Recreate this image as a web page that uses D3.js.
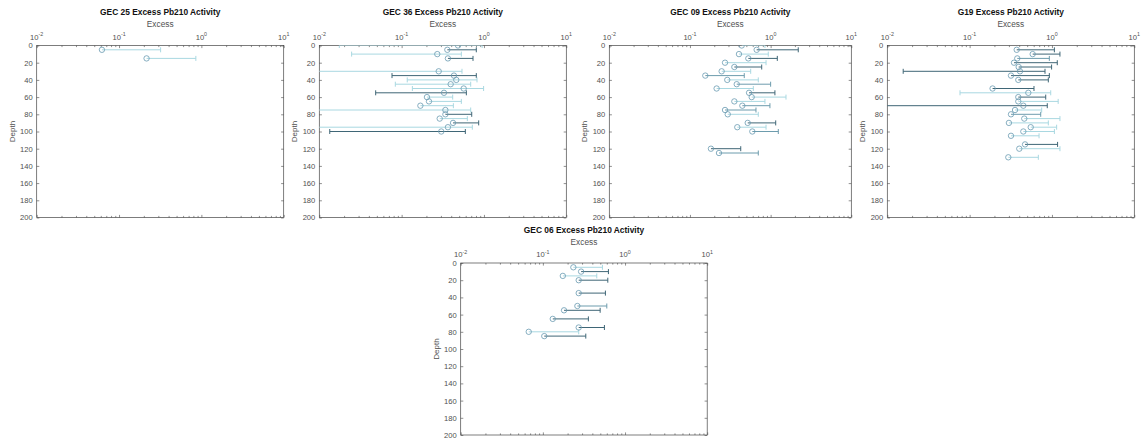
<!DOCTYPE html>
<html>
<head>
<meta charset="utf-8">
<script src="https://cdn.jsdelivr.net/npm/d3@7"></script>
<style>
  body { margin: 0; background: #fff; }
  svg { display: block; }
  text { font-family: "Liberation Sans", Arial, sans-serif; }
</style>
</head>
<body>
<div id="chart"></div>
<script>
// ---- data ----
// low: null = lower bound below zero (no left whisker), <0.01 = runs off the axis
const gec25Depth = [5, 15];
const gec25Value = [0.062, 0.216];
const gec25Low = [null, null];
const gec25High = [0.32, 0.857];
const gec25Tone = ["l", "l"];

const gec36Depth = [0, 5, 10, 15, 30, 35, 40, 45, 50, 55, 60, 65, 70, 75, 80, 85, 90, 95, 100];
const gec36Value = [0.484, 0.359, 0.271, 0.365, 0.282, 0.432, 0.461, 0.394, 0.567, 0.327, 0.203, 0.215, 0.169, 0.340, 0.340, 0.290, 0.421, 0.365, 0.303];
const gec36Low = [0.0175, null, 0.0247, null, 0.005, 0.0764, 0.117, 0.0838, 0.135, 0.0484, null, null, null, 0.005, null, null, null, 0.005, 0.0134];
const gec36High = [0.95, 0.807, 0.531, 0.736, 0.541, 0.807, 0.823, 0.690, 0.99, 0.611, 0.417, 0.531, 0.425, 0.69, 0.71, 0.628, 0.863, 0.722, 0.594];
const gec36Tone = ["l", "d", "l", "d", "l", "d", "l", "l", "l", "d", "l", "l", "l", "l", "d", "l", "d", "l", "d"];

const gec09Depth = [0, 5, 10, 15, 20, 25, 30, 35, 40, 45, 50, 55, 60, 65, 70, 75, 80, 90, 95, 100, 120, 125];
const gec09Value = [0.438, 0.671, 0.405, 0.529, 0.272, 0.355, 0.247, 0.155, 0.290, 0.380, 0.214, 0.540, 0.582, 0.355, 0.446, 0.272, 0.294, 0.520, 0.386, 0.593, 0.182, 0.229];
const gec09Low = gec09Value.map(() => null);
const gec09High = [0.85, 2.2, 0.935, 1.21, 0.877, 0.775, 0.566, 0.471, 0.703, 1.0, 0.61, 1.13, 1.55, 0.85, 0.98, 0.658, 0.703, 1.156, 0.877, 1.245, 0.426, 0.703];
const gec09Tone = ["l", "d", "l", "d", "l", "d", "l", "m", "l", "m", "l", "d", "l", "l", "m", "m", "l", "d", "l", "m", "d", "m"];

const g19Depth = [5, 10, 15, 20, 25, 30, 35, 40, 50, 55, 60, 65, 70, 75, 80, 85, 90, 95, 100, 105, 115, 120, 130];
const g19Value = [0.373, 0.583, 0.379, 0.346, 0.394, 0.409, 0.318, 0.39, 0.19, 0.516, 0.39, 0.39, 0.449, 0.356, 0.318, 0.461, 0.30, 0.552, 0.449, 0.318, 0.471, 0.401, 0.295];
const g19Low = [null, null, null, null, null, 0.0156, null, null, null, 0.0764, null, null, 0.005, null, null, null, null, null, null, null, null, null, null];
const g19High = [1.07, 1.25, 0.929, 1.16, 0.99, 0.823, 0.929, 0.903, 0.605, 0.966, 0.84, 1.19, 0.877, 0.75, 0.73, 1.25, 0.903, 1.14, 1.07, 0.697, 1.17, 1.25, 0.683];
const g19Tone = ["d", "d", "m", "d", "d", "d", "d", "d", "d", "l", "d", "l", "d", "l", "m", "l", "l", "l", "l", "l", "d", "l", "l"];

const gec06Depth = [5, 10, 15, 20, 35, 50, 55, 65, 75, 80, 85];
const gec06Value = [0.235, 0.292, 0.175, 0.273, 0.273, 0.263, 0.181, 0.132, 0.273, 0.0673, 0.104];
const gec06Low = gec06Value.map(() => null);
const gec06High = [0.531, 0.628, 0.453, 0.617, 0.577, 0.60, 0.498, 0.358, 0.561, 0.273, 0.333];
const gec06Tone = ["l", "d", "l", "d", "d", "m", "d", "d", "d", "l", "d"];

const xDecades = [0.01, 0.1, 1, 10];
const xExponents = ["-2", "-1", "0", "1"];
const depthTicks = [0, 20, 40, 60, 80, 100, 120, 140, 160, 180, 200];

// ---- layout ----
const width = 1142;
const height = 442;
const toneColor = { l: "#a9d8e1", m: "#6d9cad", d: "#3f6676" };
const markerColor = "#6a9bb1";
const axisColor = "#454545";
const textColor = "#505050";

const panels = [
    { name: "GEC 25", x: 36.7, y: 45.5, w: 247, depth: gec25Depth, value: gec25Value, low: gec25Low, high: gec25High, tone: gec25Tone },
    { name: "GEC 36", x: 319.3, y: 45.5, w: 247, depth: gec36Depth, value: gec36Value, low: gec36Low, high: gec36High, tone: gec36Tone },
    { name: "GEC 09", x: 609.3, y: 45.5, w: 242, depth: gec09Depth, value: gec09Value, low: gec09Low, high: gec09High, tone: gec09Tone },
    { name: "G19", x: 887.3, y: 45.5, w: 247, depth: g19Depth, value: g19Value, low: g19Low, high: g19High, tone: g19Tone },
    { name: "GEC 06", x: 460.7, y: 263, w: 246.5, depth: gec06Depth, value: gec06Value, low: gec06Low, high: gec06High, tone: gec06Tone }
];
const plotH = 172;

const svg = d3.select("#chart")
    .append("svg")
    .attr("width", width)
    .attr("height", height);

panels.forEach((p, k) => {
    const x = d3.scaleLog().domain([0.01, 10]).range([0, p.w]);
    const y = d3.scaleLinear().domain([0, 200]).range([0, plotH]);

    const g = svg.append("g").attr("transform", `translate(${p.x},${p.y})`);

    svg.append("clipPath").attr("id", "clip" + k)
        .append("rect").attr("x", p.x).attr("y", p.y).attr("width", p.w).attr("height", plotH);

    // titles
    g.append("text")
        .attr("x", p.w / 2).attr("y", -30.5)
        .attr("text-anchor", "middle")
        .style("font-size", "8.4px").style("font-weight", "bold").attr("fill", "#111")
        .text(`${p.name} Excess Pb210 Activity`);
    g.append("text")
        .attr("x", p.w / 2).attr("y", -18.5)
        .attr("text-anchor", "middle")
        .style("font-size", "8.3px").attr("fill", textColor)
        .text("Excess");
    g.append("text")
        .attr("transform", `translate(-22,${plotH / 2}) rotate(-90)`)
        .attr("text-anchor", "middle")
        .style("font-size", "8px").attr("fill", textColor)
        .text("Depth");

    // minor + major x ticks, top and bottom, pointing inward
    const minor = x.ticks().filter(v => !xDecades.includes(v));
    [["top", 0, -1.6, minor], ["top", 0, -2.6, xDecades], ["bottom", plotH, -1.6, minor], ["bottom", plotH, -2.6, xDecades]]
        .forEach(([side, ty, size, vals]) => {
            const ax = (side === "top" ? d3.axisTop(x) : d3.axisBottom(x))
                .tickValues(vals).tickSize(size).tickSizeOuter(0).tickFormat("");
            const a = g.append("g").attr("transform", `translate(0,${ty})`).call(ax);
            a.select(".domain").remove();
            a.selectAll("line").attr("stroke", axisColor).attr("stroke-width", 0.6);
        });

    // decade labels with superscripts
    xDecades.forEach((v, i) => {
        const t = g.append("text")
            .attr("x", x(v)).attr("y", -6)
            .attr("text-anchor", "middle")
            .style("font-size", "7.6px").attr("fill", textColor);
        t.append("tspan").text("10");
        t.append("tspan").attr("dy", -3.5).style("font-size", "5.3px").text(xExponents[i]);
    });

    // y axes
    const yl = g.append("g").call(d3.axisLeft(y).tickValues(depthTicks).tickSize(-2.6).tickSizeOuter(0).tickPadding(4));
    yl.select(".domain").remove();
    yl.selectAll("line").attr("stroke", axisColor).attr("stroke-width", 0.6);
    yl.selectAll("text").style("font-size", "7.6px").attr("fill", textColor)
        .style("font-family", "'Liberation Sans', Arial, sans-serif");
    const yr = g.append("g").attr("transform", `translate(${p.w},0)`)
        .call(d3.axisRight(y).tickValues(depthTicks).tickSize(-2.6).tickSizeOuter(0).tickFormat(""));
    yr.select(".domain").remove();
    yr.selectAll("line").attr("stroke", axisColor).attr("stroke-width", 0.6);

    // frame
    g.append("rect")
        .attr("width", p.w).attr("height", plotH)
        .attr("fill", "none").attr("stroke", axisColor).attr("stroke-width", 0.7);

    // error bars
    const rows = p.depth.map((d, i) => ({ d, v: p.value[i], lo: p.low[i], hi: p.high[i], c: toneColor[p.tone[i]] }));
    const bars = svg.append("g").attr("clip-path", `url(#clip${k})`)
        .append("g").attr("transform", `translate(${p.x},${p.y})`);

    bars.selectAll(".bar").data(rows).enter().append("line")
        .attr("x1", r => x(r.lo === null ? r.v : r.lo))
        .attr("x2", r => x(r.hi))
        .attr("y1", r => y(r.d)).attr("y2", r => y(r.d))
        .attr("stroke", r => r.c).attr("stroke-width", 1);

    bars.selectAll(".capHi").data(rows).enter().append("line")
        .attr("x1", r => x(r.hi)).attr("x2", r => x(r.hi))
        .attr("y1", r => y(r.d) - 2.5).attr("y2", r => y(r.d) + 2.5)
        .attr("stroke", r => r.c).attr("stroke-width", 1);

    bars.selectAll(".capLo").data(rows.filter(r => r.lo !== null && r.lo >= 0.01)).enter().append("line")
        .attr("x1", r => x(r.lo)).attr("x2", r => x(r.lo))
        .attr("y1", r => y(r.d) - 2.5).attr("y2", r => y(r.d) + 2.5)
        .attr("stroke", r => r.c).attr("stroke-width", 1);

    bars.selectAll(".pt").data(rows).enter().append("circle")
        .attr("cx", r => x(r.v)).attr("cy", r => y(r.d))
        .attr("r", 2.7)
        .attr("fill", "none").attr("stroke", markerColor).attr("stroke-width", 0.8);
});
</script>
</body>
</html>
